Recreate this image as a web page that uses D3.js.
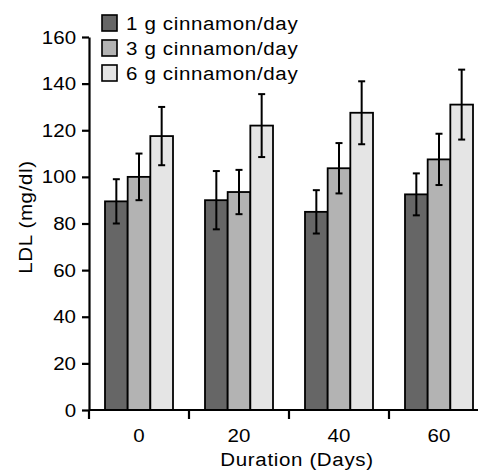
<!DOCTYPE html>
<html>
<head>
<meta charset="utf-8">
<script src="https://cdn.jsdelivr.net/npm/d3@7"></script>
<style>
    body { margin: 0; background: #fff; }
    svg { display: block; font-family: "Liberation Sans", Arial, sans-serif; }
</style>
</head>
<body>
<svg id="chart" width="478" height="470"></svg>
<script>
// data
const days = ["0", "20", "40", "60"];
const doses = ["1 g cinnamon/day", "3 g cinnamon/day", "6 g cinnamon/day"];
const dose1Mean = [89.5, 90, 85, 92.5];
const dose1Err = [9.5, 12.5, 9.3, 9];
const dose3Mean = [100, 93.5, 103.7, 107.5];
const dose3Err = [10, 9.5, 10.8, 11];
const dose6Mean = [117.5, 122, 127.5, 131];
const dose6Err = [12.5, 13.5, 13.5, 15];
const yTicks = [0, 20, 40, 60, 80, 100, 120, 140, 160];

const fills = ["#666666", "#b3b3b3", "#e5e5e5"];
const means = [dose1Mean, dose3Mean, dose6Mean];
const errs = [dose1Err, dose3Err, dose6Err];

const svg = d3.select("#chart");

const axisLeft = 89, axisBottom = 410, axisTop = 37;

const y = d3.scaleLinear().domain([0, 160]).range([axisBottom, axisTop]);

const x0 = d3.scaleBand()
    .domain(days)
    .range([axisLeft, axisLeft + 400])
    .paddingInner(0.32)
    .paddingOuter(0.16);

const x1 = d3.scaleBand()
    .domain(d3.range(doses.length))
    .range([0, x0.bandwidth()]);

// flatten into rows for drawing
const rows = [];
days.forEach((d, i) => {
    doses.forEach((s, j) => {
        rows.push({ day: d, k: j, mean: means[j][i], err: errs[j][i] });
    });
});

const g = svg.append("g");

g.selectAll("rect.bar")
    .data(rows)
    .join("rect")
    .attr("class", "bar")
    .attr("x", d => x0(d.day) + x1(d.k))
    .attr("y", d => y(d.mean))
    .attr("width", x1.bandwidth())
    .attr("height", d => y(0) - y(d.mean))
    .attr("fill", d => fills[d.k])
    .attr("stroke", "#000")
    .attr("stroke-width", 1.8);

// error bars
const cap = 3.5;
const eb = g.selectAll("g.err")
    .data(rows)
    .join("g")
    .attr("class", "err")
    .attr("stroke", "#000")
    .attr("stroke-width", 2);

eb.append("line")
    .attr("x1", d => x0(d.day) + x1(d.k) + x1.bandwidth() / 2)
    .attr("x2", d => x0(d.day) + x1(d.k) + x1.bandwidth() / 2)
    .attr("y1", d => y(d.mean - d.err))
    .attr("y2", d => y(d.mean + d.err));
[1, -1].forEach(sgn => {
    eb.append("line")
        .attr("x1", d => x0(d.day) + x1(d.k) + x1.bandwidth() / 2 - cap)
        .attr("x2", d => x0(d.day) + x1(d.k) + x1.bandwidth() / 2 + cap)
        .attr("y1", d => y(d.mean + sgn * d.err))
        .attr("y2", d => y(d.mean + sgn * d.err));
});

// y axis
const yAxis = svg.append("g")
    .attr("transform", `translate(${axisLeft},0)`)
    .call(d3.axisLeft(y).tickValues(yTicks).tickSize(7).tickPadding(5).tickSizeOuter(0));
yAxis.select(".domain").attr("stroke-width", 2.2);
yAxis.selectAll(".tick line").attr("stroke-width", 2.2);
yAxis.selectAll(".tick text")
    .attr("font-size", 19)
    .attr("fill", "#000")
    .attr("font-family", "Liberation Sans, Arial, sans-serif")
    .attr("transform", "scale(1.08,1)");

// x axis: line with ticks at group boundaries
const xAxis = svg.append("g").attr("transform", `translate(0,${axisBottom})`);
xAxis.append("line")
    .attr("x1", axisLeft).attr("x2", axisLeft + 400)
    .attr("stroke", "#000").attr("stroke-width", 2.2);
xAxis.selectAll("line.tk")
    .data(days)
    .join("line")
    .attr("class", "tk")
    .attr("x1", d => x0(d) - x0.step() * x0.paddingOuter())
    .attr("x2", d => x0(d) - x0.step() * x0.paddingOuter())
    .attr("y1", 0).attr("y2", 9)
    .attr("stroke", "#000").attr("stroke-width", 2.2);
xAxis.selectAll("text")
    .data(days)
    .join("text")
    .attr("transform", d => `translate(${x0(d) + x0.bandwidth() / 2},32) scale(1.08,1)`)
    .attr("text-anchor", "middle")
    .attr("font-size", 19)
    .text(d => d);

svg.append("text")
    .attr("transform", "translate(297,466) scale(1.08,1)")
    .attr("text-anchor", "middle")
    .attr("font-size", 19)
    .attr("letter-spacing", 0.6)
    .text("Duration (Days)");

svg.append("text")
    .attr("transform", "translate(32,217) rotate(-90) scale(1.08,1)")
    .attr("text-anchor", "middle")
    .attr("font-size", 19)
    .attr("letter-spacing", 0.6)
    .text("LDL (mg/dl)");

// legend
const legend = svg.append("g").attr("transform", "translate(102,15)");
const li = legend.selectAll("g")
    .data(doses)
    .join("g")
    .attr("transform", (d, i) => `translate(0,${i * 25})`);
li.append("rect")
    .attr("width", 15).attr("height", 16)
    .attr("fill", (d, i) => fills[i])
    .attr("stroke", "#000").attr("stroke-width", 1.6);
li.append("text")
    .attr("transform", "translate(24,15) scale(1.08,1)")
    .attr("font-size", 19)
    .attr("letter-spacing", 0.6)
    .text(d => d);
</script>
</body>
</html>
